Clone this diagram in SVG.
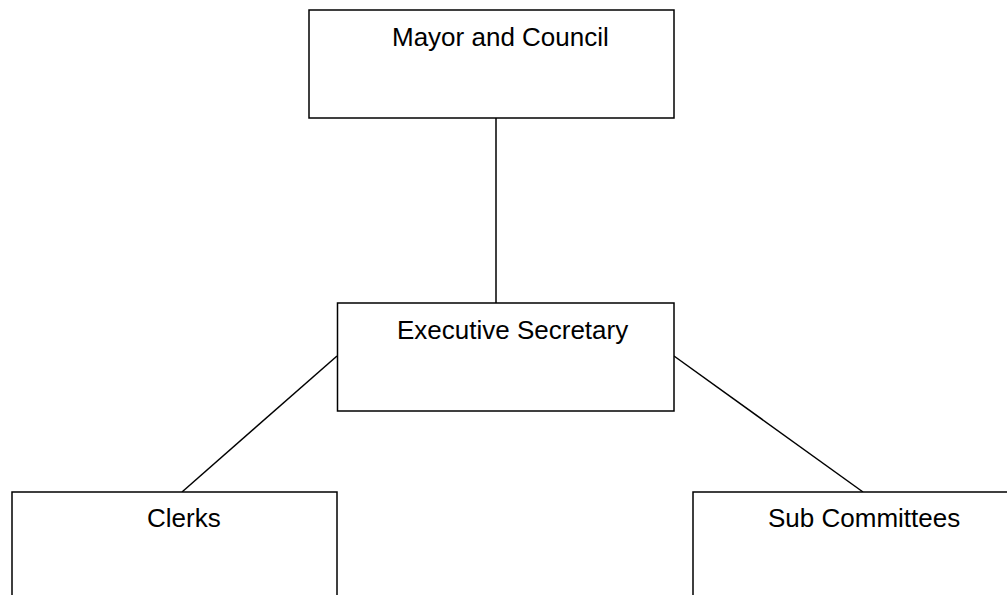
<svg xmlns="http://www.w3.org/2000/svg" width="1007" height="595" viewBox="0 0 1007 595">
<style>
.box{fill:#fff;stroke:#000;stroke-width:1.5}
.lbl{font-family:"Liberation Sans",Arial,sans-serif;font-size:26px;fill:#000}
.conn line{stroke:#000;stroke-width:1.5}
</style>
<rect width="1007" height="595" fill="#fff"/>
<g id="connectors" class="conn">
<line x1="496" y1="118" x2="496" y2="303"/>
<line x1="337" y1="356" x2="182" y2="492"/>
<line x1="674" y1="356" x2="863" y2="492"/>
</g>
<g id="mayor">
<rect class="box" x="309" y="10" width="365" height="108"/>
<text class="lbl" x="392" y="46">Mayor and Council</text>
</g>
<g id="exec">
<rect class="box" x="337.5" y="303" width="336.5" height="108"/>
<text class="lbl" x="397" y="339">Executive Secretary</text>
</g>
<g id="clerks">
<rect class="box" x="12" y="492" width="325" height="120"/>
<text class="lbl" x="147" y="527">Clerks</text>
</g>
<g id="subcommittees">
<rect class="box" x="693" y="492" width="330" height="120"/>
<text class="lbl" x="768" y="527">Sub Committees</text>
</g>
</svg>
